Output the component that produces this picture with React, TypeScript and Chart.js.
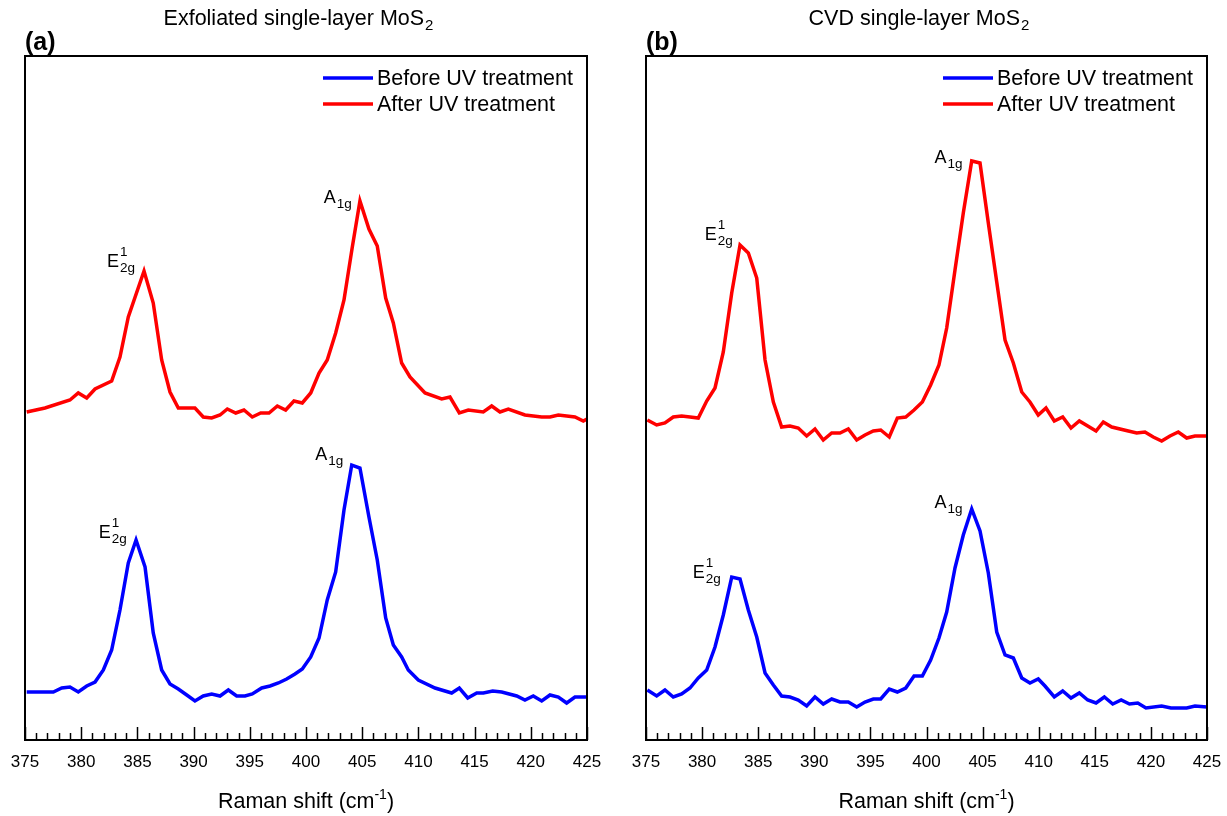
import React, { useEffect, useRef } from "react";
import { Chart, registerables } from "chart.js";

Chart.register(...registerables);

const FONT = '"Liberation Sans", Arial, Helvetica, sans-serif';

// x axis (Raman shift, cm-1)
const X_MIN = 375;
const X_MAX = 425;
const xTickValues = [375, 380, 385, 390, 395, 400, 405, 410, 415, 420, 425];
const xTickLabels = ["375", "380", "385", "390", "395", "400", "405", "410", "415", "420", "425"];
// intensity (arbitrary units)
const Y_MIN = 0;
const Y_MAX = 684;

const seriesNames = ["Before UV treatment", "After UV treatment"];
const seriesColors = ["#0000FF", "#FF0000"];
const panelTitles = ["Exfoliated single-layer MoS", "CVD single-layer MoS"];
const panelLetters = ["(a)", "(b)"];

// (a) Exfoliated, after UV
const exfoAfterX = [375.15, 376.78, 379.0, 379.74, 380.49, 381.23, 382.71, 383.45, 384.19, 385.59, 386.41, 387.16, 387.9, 388.64, 390.12, 390.86, 391.61, 392.35, 393.0, 393.75, 394.48, 395.22, 395.97, 396.71, 397.45, 398.19, 398.93, 399.67, 400.42, 401.16, 401.89, 402.64, 403.38, 404.12, 404.8, 405.6, 406.34, 407.09, 407.77, 408.51, 409.25, 410.59, 412.07, 412.81, 413.64, 414.44, 415.77, 416.52, 417.26, 418.0, 419.48, 420.97, 421.71, 422.45, 423.93, 424.67, 425.0];
const exfoAfterY = [328, 332, 340, 347, 342, 351, 359, 383, 423, 469, 437, 380, 348, 332, 332, 323, 322, 325, 331, 327, 330, 323, 327, 327, 334, 330, 339, 337, 347, 367, 380, 407, 440, 493, 539, 511, 494, 442, 417, 377, 363, 347, 341, 343, 327, 330, 328, 334, 328, 331, 325, 323, 323, 325, 323, 319, 321];

// (a) Exfoliated, before UV
const exfoBeforeX = [375.15, 377.52, 378.27, 379.0, 379.74, 380.49, 381.23, 381.97, 382.71, 383.45, 384.19, 384.88, 385.68, 386.41, 387.16, 387.9, 388.64, 389.39, 390.12, 390.86, 391.61, 392.35, 393.09, 393.83, 394.57, 395.22, 396.06, 396.8, 397.54, 398.28, 399.02, 399.67, 400.42, 401.16, 401.89, 402.64, 403.38, 404.07, 404.8, 405.6, 406.34, 407.09, 407.77, 408.51, 409.1, 409.99, 411.48, 412.96, 413.64, 414.39, 415.19, 415.78, 416.61, 417.41, 418.75, 419.48, 420.22, 420.97, 421.71, 422.45, 423.19, 423.93, 425.0];
const exfoBeforeY = [48, 48, 52, 53, 48, 54, 58, 70, 90, 130, 177, 200, 173, 107, 70, 56, 51, 45, 39, 44, 46, 44, 50, 44, 44, 46, 52, 54, 57, 61, 66, 71, 83, 102, 140, 168, 230, 275, 272, 223, 180, 122, 95, 83, 70, 60, 52, 47, 52, 42, 47, 47, 49, 48, 44, 40, 44, 39, 45, 43, 37, 43, 43];

// (b) CVD, after UV
const cvdAfterX = [375.12, 375.95, 376.69, 377.43, 378.18, 378.92, 379.66, 380.41, 381.15, 381.89, 382.64, 383.38, 384.12, 384.87, 385.61, 386.35, 387.09, 387.83, 388.57, 389.32, 390.06, 390.8, 391.55, 392.29, 393.03, 393.78, 394.52, 395.26, 395.92, 396.68, 397.4, 398.15, 398.89, 399.63, 400.37, 401.11, 401.8, 402.54, 403.28, 404.03, 404.77, 405.51, 406.26, 407.0, 407.74, 408.49, 409.22, 409.96, 410.65, 411.39, 412.14, 412.88, 413.62, 415.11, 415.76, 416.51, 417.99, 418.73, 419.47, 420.21, 420.96, 421.7, 422.44, 423.19, 423.93, 425.0];
const cvdAfterY = [320, 315, 317, 323, 324, 323, 322, 339, 352, 388, 447, 495, 487, 462, 380, 338, 313, 314, 312, 304, 311, 300, 307, 307, 311, 300, 305, 309, 310, 303, 322, 323, 330, 338, 355, 375, 412, 470, 527, 579, 577, 517, 458, 400, 377, 348, 338, 325, 332, 319, 323, 312, 319, 309, 318, 313, 309, 307, 308, 303, 299, 304, 308, 302, 304, 304];

// (b) CVD, before UV
const cvdBeforeX = [375.12, 375.95, 376.69, 377.43, 378.18, 378.92, 379.66, 380.41, 381.15, 381.89, 382.64, 383.38, 384.12, 384.87, 385.61, 386.35, 387.09, 387.83, 388.57, 389.32, 390.06, 390.8, 391.55, 392.29, 393.03, 393.78, 394.52, 395.26, 395.92, 396.68, 397.4, 398.15, 398.89, 399.63, 400.37, 401.11, 401.8, 402.54, 403.28, 404.03, 404.77, 405.51, 406.26, 407.0, 407.74, 408.49, 409.22, 409.96, 410.56, 411.39, 412.14, 412.88, 413.62, 414.37, 415.11, 415.85, 416.6, 417.35, 418.09, 418.83, 419.56, 420.96, 421.79, 423.19, 423.93, 425.0];
const cvdBeforeY = [50, 44, 50, 43, 46, 52, 62, 70, 93, 125, 163, 161, 130, 103, 67, 55, 44, 43, 40, 34, 43, 36, 41, 38, 38, 33, 38, 41, 41, 51, 48, 52, 64, 64, 80, 102, 128, 172, 205, 231, 209, 167, 108, 85, 82, 62, 57, 61, 54, 43, 49, 42, 47, 40, 37, 43, 36, 40, 36, 37, 32, 34, 32, 32, 34, 33];

// peak labels: kind, right-edge x (cm-1), baseline intensity
const exfoPeakKinds = ["E", "A", "E", "A"];
const exfoPeakX = [384.79, 404.07, 384.05, 403.32];
const exfoPeakY = [473, 537, 202, 280];
const cvdPeakKinds = ["E", "A", "E", "A"];
const cvdPeakX = [382.73, 403.22, 381.66, 403.22];
const cvdPeakY = [500, 577, 162, 232];

const toPoints = (xs: number[], ys: number[]) => xs.map((x, i) => ({ x, y: ys[i] }));

const decorPlugin = {
  id: "decor",
  afterDraw(chart: any, _args: any, opts: any) {
    const { ctx, chartArea: a, scales } = chart;
    const xs = scales.x;
    const ys = scales.y;
    ctx.save();
    ctx.fillStyle = "#000";
    ctx.strokeStyle = "#000";

    // frame
    ctx.lineWidth = 2;
    ctx.strokeRect(a.left, a.top, a.right - a.left, a.bottom - a.top);

    // inside ticks on bottom axis
    ctx.lineWidth = 1.5;
    for (let v = X_MIN; v <= X_MAX; v++) {
      const px = Math.round(xs.getPixelForValue(v)) + 0.5;
      const len = v % 5 === 0 ? 13 : 7;
      ctx.beginPath();
      ctx.moveTo(px, a.bottom);
      ctx.lineTo(px, a.bottom - len);
      ctx.stroke();
    }

    // legend
    const legX = a.right - 264;
    const legRows = [a.top + 22, a.top + 48];
    ctx.font = `21.5px ${FONT}`;
    ctx.textBaseline = "middle";
    ctx.textAlign = "left";
    seriesNames.forEach((name, i) => {
      ctx.strokeStyle = seriesColors[i];
      ctx.lineWidth = 3.5;
      ctx.beginPath();
      ctx.moveTo(legX, legRows[i]);
      ctx.lineTo(legX + 50, legRows[i]);
      ctx.stroke();
      ctx.fillStyle = "#000";
      ctx.fillText(name, legX + 54, legRows[i] + 1);
    });

    // peak labels
    ctx.textBaseline = "alphabetic";
    const mainF = `18px ${FONT}`;
    const smallF = `13.5px ${FONT}`;
    opts.peakKinds.forEach((kind: string, i: number) => {
      const right = xs.getPixelForValue(opts.peakX[i]);
      const base = ys.getPixelForValue(opts.peakY[i]);
      ctx.font = mainF;
      const big = kind === "E" ? "E" : "A";
      const wBig = ctx.measureText(big).width;
      ctx.font = smallF;
      const sub = kind === "E" ? "2g" : "1g";
      const wSub = ctx.measureText(sub).width;
      const wSup = kind === "E" ? ctx.measureText("1").width : 0;
      const x0 = right - wBig - Math.max(wSub, wSup) - 1;
      ctx.font = mainF;
      ctx.fillText(big, x0, base);
      ctx.font = smallF;
      ctx.fillText(sub, x0 + wBig + 1, base + 5);
      if (kind === "E") ctx.fillText("1", x0 + wBig + 1, base - 11);
    });

    // panel title with subscript 2
    const cx = (a.left + a.right) / 2 - 8;
    ctx.font = `21.5px ${FONT}`;
    const tMain = opts.title;
    const wT = ctx.measureText(tMain).width;
    ctx.font = `15px ${FONT}`;
    const wT2 = ctx.measureText("2").width;
    const tx = cx - (wT + wT2) / 2;
    ctx.font = `21.5px ${FONT}`;
    ctx.fillText(tMain, tx, 25);
    ctx.font = `15px ${FONT}`;
    ctx.fillText("2", tx + wT + 1, 30);

    // panel letter
    ctx.font = `bold 25px ${FONT}`;
    ctx.fillText(opts.letter, a.left, 50);

    // x axis title
    ctx.font = `21.5px ${FONT}`;
    const p1 = "Raman shift (cm";
    const p3 = ")";
    const w1 = ctx.measureText(p1).width;
    const w3 = ctx.measureText(p3).width;
    ctx.font = `14px ${FONT}`;
    const p2 = "-1";
    const w2 = ctx.measureText(p2).width;
    const ax = (a.left + a.right) / 2 - (w1 + w2 + w3) / 2;
    const ab = 808;
    ctx.font = `21.5px ${FONT}`;
    ctx.fillText(p1, ax, ab);
    ctx.font = `14px ${FONT}`;
    ctx.fillText(p2, ax + w1, ab - 9);
    ctx.font = `21.5px ${FONT}`;
    ctx.fillText(p3, ax + w1 + w2, ab);

    ctx.restore();
  },
};

function makeConfig(
  beforeX: number[], beforeY: number[], afterX: number[], afterY: number[],
  padL: number, padR: number, title: string, letter: string,
  peakKinds: string[], peakX: number[], peakY: number[]
): any {
  return {
    type: "line",
    data: {
      datasets: [
        {
          label: seriesNames[0],
          data: toPoints(beforeX, beforeY),
          borderColor: seriesColors[0],
          backgroundColor: seriesColors[0],
          borderWidth: 3.5,
          pointRadius: 0,
          tension: 0,
          fill: false,
        },
        {
          label: seriesNames[1],
          data: toPoints(afterX, afterY),
          borderColor: seriesColors[1],
          backgroundColor: seriesColors[1],
          borderWidth: 3.5,
          pointRadius: 0,
          tension: 0,
          fill: false,
        },
      ],
    },
    options: {
      responsive: false,
      animation: false,
      events: [],
      layout: { padding: { left: padL, right: padR, top: 56, bottom: 0 } },
      plugins: {
        legend: { display: false },
        tooltip: { enabled: false },
        title: { display: false },
        decor: { title, letter, peakKinds, peakX, peakY },
      },
      scales: {
        x: {
          type: "linear",
          min: X_MIN,
          max: X_MAX,
          afterBuildTicks: (scale: any) => {
            scale.ticks = xTickValues.map((v) => ({ value: v }));
          },
          afterFit: (scale: any) => {
            scale.height = 76;
            scale.paddingLeft = 0;
            scale.paddingRight = 0;
          },
          grid: { display: false, drawTicks: false },
          border: { display: false },
          ticks: {
            color: "#000",
            font: { family: FONT, size: 17 },
            padding: 12,
            maxRotation: 0,
            autoSkip: false,
            callback: (v: any) => {
              const idx = xTickValues.indexOf(Number(v));
              return idx >= 0 ? xTickLabels[idx] : "";
            },
          },
        },
        y: {
          type: "linear",
          display: false,
          min: Y_MIN,
          max: Y_MAX,
        },
      },
    },
    plugins: [decorPlugin],
  };
}

function Panel(props: { left: number; width: number; config: () => any }) {
  const ref = useRef<HTMLCanvasElement | null>(null);
  useEffect(() => {
    if (!ref.current) return;
    const chart = new Chart(ref.current, props.config());
    return () => chart.destroy();
  }, []);
  return (
    <canvas
      ref={ref}
      width={props.width}
      height={816}
      style={{ position: "absolute", left: props.left, top: 0, width: props.width, height: 816, display: "block" }}
    />
  );
}

export default function App() {
  return (
    <div style={{ position: "absolute", left: 0, top: 0, width: 1227, height: 816, background: "#fff" }}>
      <Panel
        left={0}
        width={613}
        config={() =>
          makeConfig(exfoBeforeX, exfoBeforeY, exfoAfterX, exfoAfterY, 25, 26, panelTitles[0], panelLetters[0], exfoPeakKinds, exfoPeakX, exfoPeakY)
        }
      />
      <Panel
        left={613}
        width={614}
        config={() =>
          makeConfig(cvdBeforeX, cvdBeforeY, cvdAfterX, cvdAfterY, 33, 20, panelTitles[1], panelLetters[1], cvdPeakKinds, cvdPeakX, cvdPeakY)
        }
      />
    </div>
  );
}
